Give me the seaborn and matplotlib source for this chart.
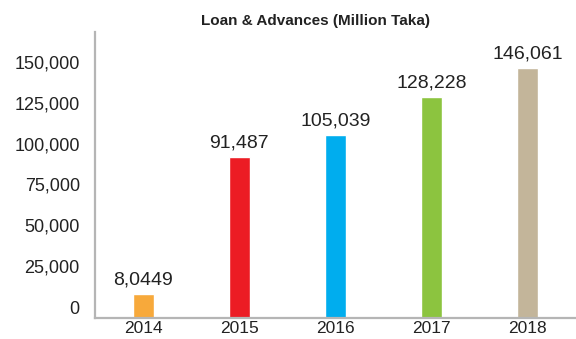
import matplotlib
matplotlib.use("Agg")
import matplotlib.pyplot as plt
import seaborn as sns
import pandas as pd

# Loan & advances by year, in million Taka
years = ["2014", "2015", "2016", "2017", "2018"]
loans = [8044.9, 91487, 105039, 128228, 146061]
value_labels = ["8,0449", "91,487", "105,039", "128,228", "146,061"]
bar_colors = ["#F7A93B", "#EC1C24", "#00ADEE", "#8CC43F", "#C3B59A"]
y_ticks = [0, 25000, 50000, 75000, 100000, 125000, 150000]

sns.set_theme(style="white")
plt.rcParams["font.family"] = ["Liberation Sans", "DejaVu Sans"]

df = pd.DataFrame({"year": years, "loan": loans})

fig = plt.figure(figsize=(5.76, 3.39), dpi=100)
ax = fig.add_axes([0.165, 0.062, 0.835, 0.844])

sns.barplot(data=df, x="year", y="loan", hue="year", palette=bar_colors,
            width=0.22, legend=False, ax=ax, saturation=1)

y_floor = -6700
ax.set_ylim(y_floor, 168300)
ax.set_xlim(-0.5, 4.5)

# bars rest on the baseline, which sits a little below the zero tick
for patch in ax.patches:
    top = patch.get_y() + patch.get_height()
    patch.set_y(y_floor)
    patch.set_height(top - y_floor)

for i, (v, lab) in enumerate(zip(loans, value_labels)):
    ax.annotate(lab, (i, v), xytext=(0, 4), textcoords="offset points",
                ha="center", va="bottom", fontsize=14, color="#222222")

ax.set_yticks(y_ticks)
ax.set_yticklabels([f"{t:,}" for t in y_ticks])
ax.tick_params(axis="y", length=0, pad=11, labelsize=13, labelcolor="#222222")
ax.tick_params(axis="x", length=0, pad=2.5, labelsize=12.5, labelcolor="#222222")
ax.set_xlabel("")
ax.set_ylabel("")

for side in ["top", "right"]:
    ax.spines[side].set_visible(False)
for side in ["left", "bottom"]:
    ax.spines[side].set_color("#B5B5B5")
    ax.spines[side].set_linewidth(1.6)

fig.text(0.547, 0.938, "Loan & Advances (Million Taka)", ha="center",
         va="center", fontsize=11, fontweight="bold", color="#222222")

fig.savefig("out.png", dpi=100, facecolor="white")
